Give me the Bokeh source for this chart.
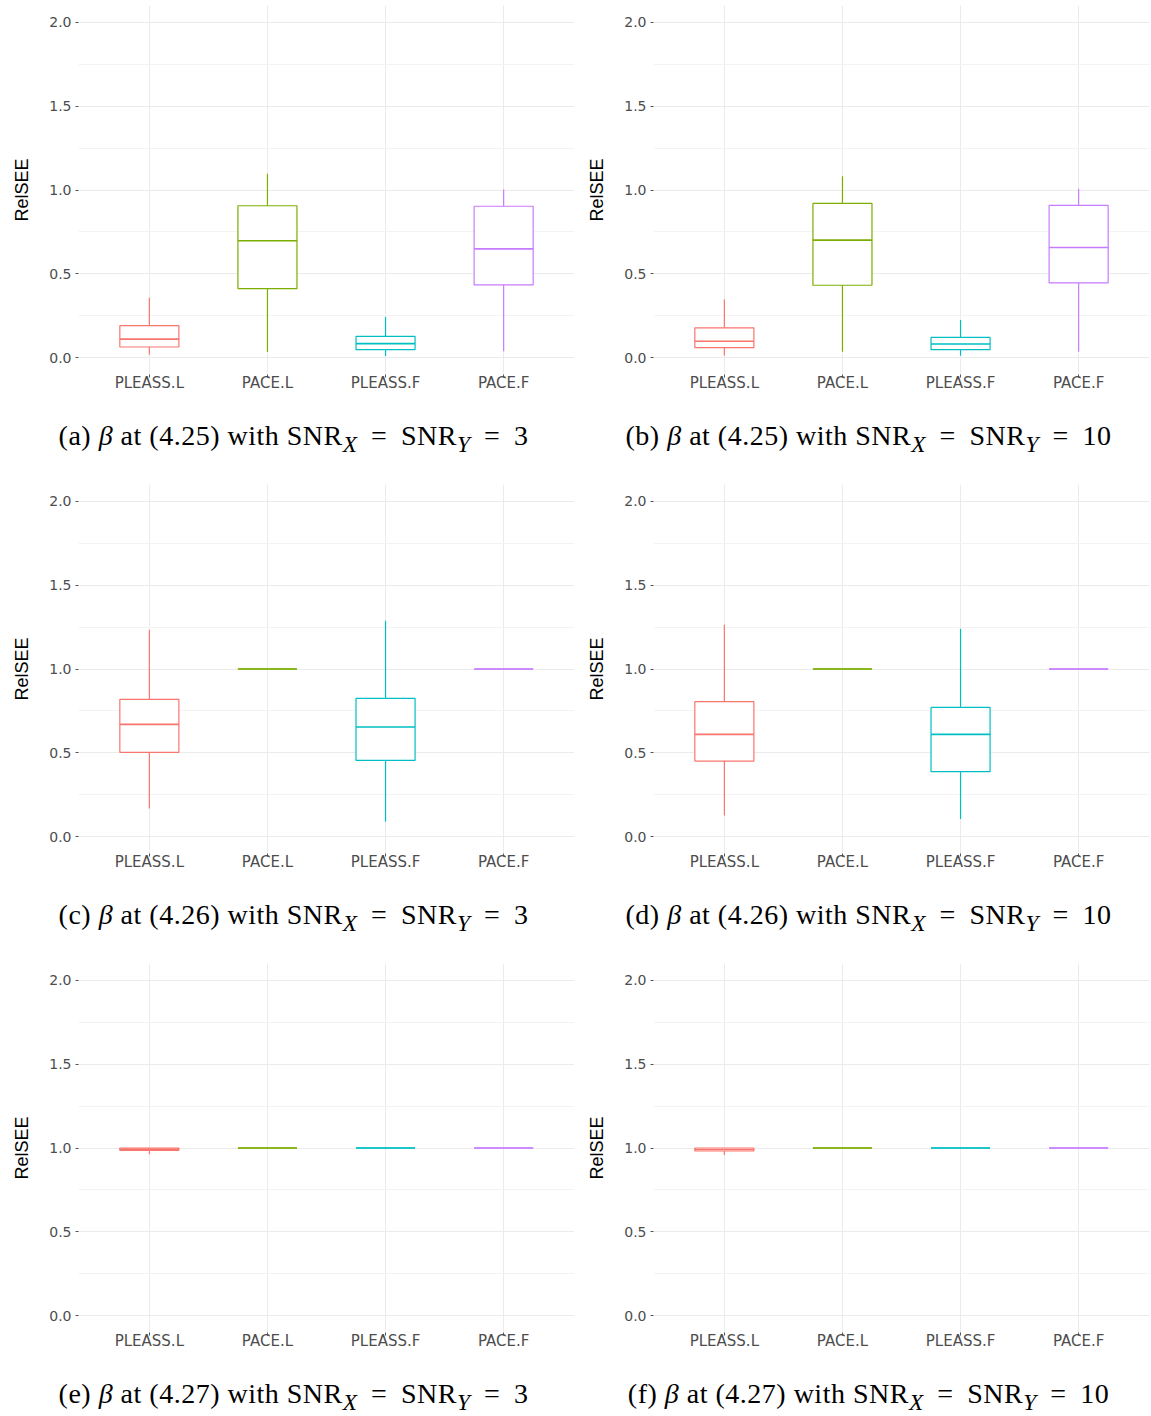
from bokeh.plotting import figure
from bokeh.models import FactorRange, Range1d, FixedTicker, NumeralTickFormatter, Div
from bokeh.layouts import column, row
from bokeh.embed import file_html
from bokeh.resources import INLINE

methods = ["PLEASS.L", "PACE.L", "PLEASS.F", "PACE.F"]
colors = ["#F8766D", "#7CAE00", "#00BFC4", "#C77CFF"]
y_ticks = [0.0, 0.5, 1.0, 1.5, 2.0]
y_minor = [0.25, 0.75, 1.25, 1.75]

# (a) beta at (4.25), SNR = 3
a_lower = [0.018, 0.034, 0.010, 0.038]
a_q1 = [0.064, 0.412, 0.048, 0.434]
a_med = [0.111, 0.697, 0.084, 0.649]
a_q3 = [0.191, 0.906, 0.127, 0.903]
a_upper = [0.358, 1.097, 0.245, 1.003]

# (b) beta at (4.25), SNR = 10
b_lower = [0.014, 0.036, 0.012, 0.036]
b_q1 = [0.060, 0.432, 0.048, 0.446]
b_med = [0.098, 0.701, 0.082, 0.657]
b_q3 = [0.178, 0.920, 0.121, 0.908]
b_upper = [0.347, 1.082, 0.225, 1.008]

# (c) beta at (4.26), SNR = 3
c_lower = [0.169, 1.0, 0.089, 1.0]
c_q1 = [0.503, 1.0, 0.455, 1.0]
c_med = [0.670, 1.0, 0.654, 1.0]
c_q3 = [0.819, 1.0, 0.825, 1.0]
c_upper = [1.234, 1.0, 1.288, 1.0]

# (d) beta at (4.26), SNR = 10
d_lower = [0.127, 1.0, 0.106, 1.0]
d_q1 = [0.451, 1.0, 0.388, 1.0]
d_med = [0.610, 1.0, 0.610, 1.0]
d_q3 = [0.805, 1.0, 0.771, 1.0]
d_upper = [1.264, 1.0, 1.240, 1.0]

# (e) beta at (4.27), SNR = 3
e_lower = [0.962, 1.0, 1.0, 1.0]
e_q1 = [0.986, 1.0, 1.0, 1.0]
e_med = [0.993, 1.0, 1.0, 1.0]
e_q3 = [1.0, 1.0, 1.0, 1.0]
e_upper = [1.0, 1.0, 1.0, 1.0]

# (f) beta at (4.27), SNR = 10
f_lower = [0.958, 1.0, 1.0, 1.0]
f_q1 = [0.982, 1.0, 1.0, 1.0]
f_med = [0.991, 1.0, 1.0, 1.0]
f_q3 = [1.0, 1.0, 1.0, 1.0]
f_upper = [1.0, 1.0, 1.0, 1.0]

cap_letters = ["a", "b", "c", "d", "e", "f"]
cap_eqs = ["4.25", "4.25", "4.26", "4.26", "4.27", "4.27"]
cap_snrs = ["3", "10", "3", "10", "3", "10"]

CELL_W = 575
FIG_H = 396
DIV_H = 83
LAST_DIV_H = 58


def make_panel(lower, q1, med, q3, upper):
    p = figure(
        x_range=FactorRange(factors=methods, range_padding=0.1,
                            range_padding_units="absolute"),
        y_range=Range1d(-0.1, 2.1),
        width=CELL_W, height=FIG_H,
        output_backend="svg", toolbar_location=None,
        min_border_left=78, min_border_right=1,
        min_border_top=5, min_border_bottom=22,
    )
    p.outline_line_color = None
    p.background_fill_color = "white"
    p.border_fill_color = "white"

    p.yaxis.ticker = FixedTicker(ticks=y_ticks, minor_ticks=y_minor)
    p.yaxis.formatter = NumeralTickFormatter(format="0.0")
    p.yaxis.axis_label = "RelSEE"
    p.yaxis.axis_label_text_font = "Liberation Sans"
    p.yaxis.axis_label_text_font_style = "normal"
    p.yaxis.axis_label_text_font_size = "18px"
    p.yaxis.axis_label_text_color = "#000000"
    p.yaxis.axis_label_standoff = 14
    for ax in (p.xaxis[0], p.yaxis[0]):
        ax.axis_line_color = None
        ax.minor_tick_line_color = None
        ax.major_tick_in = 0
        ax.major_tick_out = 3
        ax.major_tick_line_color = "#555555"
        ax.major_label_text_font = "DejaVu Sans"
        ax.major_label_text_color = "#4d4d4d"
    p.yaxis.major_label_text_font_size = "14px"
    p.yaxis.major_label_standoff = 3
    p.xaxis.major_label_text_font_size = "15px"
    p.xaxis.major_label_standoff = -4

    p.xgrid.grid_line_color = "#ebebeb"
    p.ygrid.grid_line_color = "#ebebeb"
    p.ygrid.minor_grid_line_color = "#f3f3f3"

    p.segment(x0=methods, y0=q3, x1=methods, y1=upper, line_color=colors, line_width=1.2)
    p.segment(x0=methods, y0=q1, x1=methods, y1=lower, line_color=colors, line_width=1.2)
    p.vbar(x=methods, top=q3, bottom=q1, width=0.5, fill_color="white",
           line_color=colors, line_width=1.2)
    p.vbar(x=methods, top=med, bottom=med, width=0.5, fill_alpha=0,
           line_color=colors, line_width=1.6)
    return p


def make_caption(letter, eq, snr, h):
    html = (
        '<div style="width:%dpx;text-align:center;font-family:\'Liberation Serif\',serif;'
        'font-size:28px;letter-spacing:0.5px;color:#000;padding-top:20px;padding-left:12px;'
        'box-sizing:border-box;white-space:nowrap;">'
        '(%s) <i>&beta;</i> at (%s) with SNR<sub><i>X</i></sub>&thinsp; = &thinsp;'
        'SNR<sub><i>Y</i></sub>&thinsp; = &thinsp;%s</div>' % (CELL_W, letter, eq, snr)
    )
    return Div(text=html, width=CELL_W, height=h, margin=0)


data = [
    (a_lower, a_q1, a_med, a_q3, a_upper),
    (b_lower, b_q1, b_med, b_q3, b_upper),
    (c_lower, c_q1, c_med, c_q3, c_upper),
    (d_lower, d_q1, d_med, d_q3, d_upper),
    (e_lower, e_q1, e_med, e_q3, e_upper),
    (f_lower, f_q1, f_med, f_q3, f_upper),
]

cells = []
for i, d in enumerate(data):
    p = make_panel(*d)
    h = LAST_DIV_H if i >= 4 else DIV_H
    cap = make_caption(cap_letters[i], cap_eqs[i], cap_snrs[i], h)
    cells.append(column(p, cap, spacing=0))

layout = column(
    row(cells[0], cells[1], spacing=0),
    row(cells[2], cells[3], spacing=0),
    row(cells[4], cells[5], spacing=0),
    spacing=0,
)

open("out.html", "w").write(file_html(layout, INLINE))
